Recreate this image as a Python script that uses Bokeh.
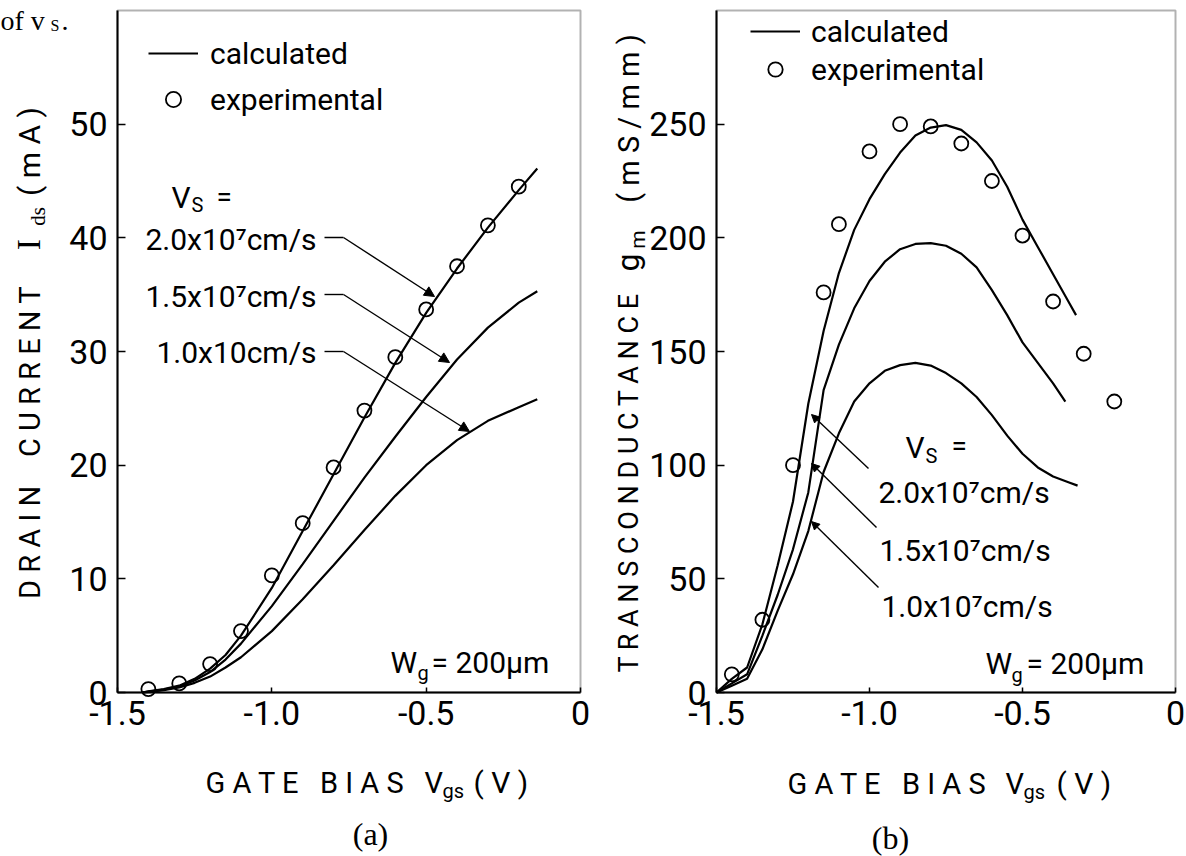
from math import pi
from bokeh.plotting import figure
from bokeh.layouts import row
from bokeh.models import (Range1d, FixedTicker, CustomJSTickFormatter, Label, Arrow,
                          NormalHead, Legend, LegendItem, BoxAnnotation)
from bokeh.embed import file_html
from bokeh.resources import INLINE

# ---------------- data: panel (a) drain current Ids (mA) ----------------
vgs_a_calc = [-1.42, -1.40, -1.35, -1.30, -1.25, -1.20, -1.15, -1.10, -1.00, -0.90,
              -0.80, -0.70, -0.60, -0.50, -0.40, -0.30, -0.20, -0.14]
ids_calc_v20 = [0.0, 0.1, 0.3, 0.6, 1.2, 2.1, 3.3, 5.0, 9.2, 14.2,
                19.2, 24.2, 29.0, 33.4, 37.3, 40.9, 44.2, 46.1]
ids_calc_v15 = [0.0, 0.08, 0.25, 0.55, 1.05, 1.8, 2.9, 4.3, 7.6, 11.3,
                15.1, 18.9, 22.5, 26.0, 29.3, 32.1, 34.3, 35.3]
ids_calc_v10 = [0.0, 0.05, 0.2, 0.45, 0.85, 1.4, 2.2, 3.1, 5.4, 8.2,
                11.2, 14.3, 17.3, 20.0, 22.2, 23.9, 25.1, 25.8]
vgs_a_exp = [-1.4, -1.3, -1.2, -1.1, -1.0, -0.9, -0.8, -0.7, -0.6, -0.5, -0.4, -0.3, -0.2]
ids_exp = [0.3, 0.8, 2.5, 5.4, 10.3, 14.9, 19.8, 24.8, 29.5, 33.7, 37.5, 41.1, 44.5]

# ---------------- data: panel (b) transconductance gm (mS/mm) ----------------
vgs_b_v20 = [-1.50, -1.45, -1.40, -1.35, -1.30, -1.25, -1.20, -1.15, -1.10, -1.05, -1.00,
             -0.95, -0.90, -0.85, -0.80, -0.75, -0.70, -0.65, -0.60, -0.55, -0.50,
             -0.45, -0.40, -0.35, -0.325]
gm_calc_v20 = [0, 6, 11, 30, 56, 84, 127, 159, 184.5, 203.5, 217,
               228, 237.5, 245, 248.5, 249.6, 247.5, 242, 234, 222.5, 208,
               196, 184, 172, 166]
vgs_b_v15 = [-1.50, -1.45, -1.40, -1.35, -1.30, -1.25, -1.20, -1.15, -1.10, -1.05, -1.00,
             -0.95, -0.90, -0.85, -0.80, -0.75, -0.70, -0.65, -0.60, -0.55, -0.50,
             -0.45, -0.40, -0.36]
gm_calc_v15 = [0, 4, 8, 25, 43, 63, 88, 133, 153, 169, 181,
               189.5, 195, 197.3, 197.7, 196.5, 193, 187, 177, 166, 154,
               145, 136, 128]
vgs_b_v10 = [-1.50, -1.45, -1.40, -1.35, -1.30, -1.25, -1.20, -1.15, -1.10, -1.05, -1.00,
             -0.95, -0.90, -0.85, -0.80, -0.75, -0.70, -0.65, -0.60, -0.55, -0.50,
             -0.45, -0.40, -0.35, -0.32]
gm_calc_v10 = [0, 3, 6, 19, 36, 52, 71, 97, 114, 128, 136,
               141.5, 144, 145, 143.8, 140.5, 136, 130, 122, 113, 105,
               99, 95, 92.5, 91]
vgs_b_exp = [-1.45, -1.35, -1.25, -1.15, -1.10, -1.0, -0.9, -0.8, -0.7, -0.6, -0.5, -0.4, -0.3, -0.2]
gm_exp = [8, 32, 100, 176, 206, 238, 250, 249, 241.5, 225, 201, 172, 149, 128]

x_ticks = [-1.5, -1.0, -0.5, 0.0]
ya_ticks = [0, 10, 20, 30, 40, 50]
yb_ticks = [0, 50, 100, 150, 200, 250]
X_MIN, X_MAX = -1.5, 0.0
YA_MAX, YB_MAX = 60, 300

SANS = "Roboto"
SERIF = "Liberation Serif"
NB = "\u00a0"

W, H = 593, 856
BOX_TOP, BOX_BOTTOM = 10, 692   # pixel rows of the plot box


def mapper(box_left, box_w, ymax):
    fx = lambda px: X_MIN + (px - box_left) * (X_MAX - X_MIN) / box_w
    fy = lambda py: (BOX_BOTTOM - py) * ymax / (BOX_BOTTOM - BOX_TOP)
    return fx, fy


def make_fig(fx, fy, fig_left, ymax, yticks):
    # the frame covers the whole figure; axes are pinned to the plot box
    p = figure(width=W, height=H,
               x_range=Range1d(fx(fig_left), fx(fig_left + W)),
               y_range=Range1d(fy(H), fy(0)),
               output_backend="svg", toolbar_location=None,
               min_border=0, min_border_left=0, min_border_right=0,
               min_border_top=0, min_border_bottom=0)
    p.xgrid.visible = False
    p.ygrid.visible = False
    p.outline_line_color = None
    p.background_fill_color = "white"
    p.border_fill_color = "white"
    p.xaxis.fixed_location = 0
    p.yaxis.fixed_location = X_MIN
    p.xaxis.bounds = (X_MIN, X_MAX)
    p.yaxis.bounds = (0, ymax)
    p.xaxis.ticker = FixedTicker(ticks=x_ticks)
    p.xaxis.formatter = CustomJSTickFormatter(code="return tick == 0 ? '0' : tick.toFixed(1);")
    p.yaxis.ticker = FixedTicker(ticks=yticks)
    for ax in (p.xaxis[0], p.yaxis[0]):
        ax.axis_line_color = "black"
        ax.axis_line_width = 2
        ax.major_tick_line_color = "black"
        ax.major_tick_line_width = 1.5
        ax.minor_tick_line_color = None
        ax.major_label_text_font = SANS
        ax.major_label_text_font_size = "34px"
        ax.major_label_text_color = "black"
    p.xaxis.major_tick_in = 5
    p.xaxis.major_tick_out = 0
    p.xaxis.major_label_standoff = 8
    p.yaxis.major_tick_in = 8
    p.yaxis.major_tick_out = 0
    p.yaxis.major_label_standoff = 10
    p.add_layout(BoxAnnotation(left=X_MIN, right=X_MAX, bottom=0, top=ymax,
                               fill_alpha=0, line_color="black", line_width=2))
    return p


def lab(p, fx, fy, px, py, text, size=30, font=SANS, align="left", baseline="middle", angle=0.0):
    p.add_layout(Label(x=fx(px), y=fy(py), text=text, text_font=font,
                       text_font_size=f"{size}px", text_align=align,
                       text_baseline=baseline, angle=angle, text_color="black"))


def arrow(p, fx, fy, x0, y0, x1, y1, head=True, size=10):
    end = NormalHead(size=size, fill_color="black", line_color="black", line_width=1) if head else None
    p.add_layout(Arrow(end=end, x_start=fx(x0), y_start=fy(y0), x_end=fx(x1), y_end=fy(y1),
                       line_color="black", line_width=1.4))


def spaced(word):
    return " ".join(word)


LINE_W = 2.2
GATE_BIAS = spaced("GATE") + " " + NB * 2 + spaced("BIAS")

# ================= panel (a) =================
fxa, fya = mapper(117, 463, YA_MAX)
pa = make_fig(fxa, fya, 0, YA_MAX, ya_ticks)
ra20 = pa.line(vgs_a_calc, ids_calc_v20, line_color="black", line_width=LINE_W)
pa.line(vgs_a_calc, ids_calc_v15, line_color="black", line_width=LINE_W)
pa.line(vgs_a_calc, ids_calc_v10, line_color="black", line_width=LINE_W)
rae = pa.scatter(vgs_a_exp, ids_exp, marker="circle", size=14, fill_color=None,
                 line_color="black", line_width=1.8)

pa.add_layout(Legend(items=[LegendItem(label="calculated", renderers=[ra20]),
                            LegendItem(label="experimental", renderers=[rae])],
                     location=(148, H - 118), orientation="vertical", margin=0, padding=0,
                     spacing=8, glyph_width=50, glyph_height=38, label_height=38,
                     label_standoff=12, label_text_font=SANS, label_text_font_size="30px",
                     label_text_color="black",
                     background_fill_alpha=0, border_line_color=None))

lab(pa, fxa, fya, 171, 197, "V", 30)
lab(pa, fxa, fya, 191, 204, "S", 20)
lab(pa, fxa, fya, 216, 196, "=", 28)
lab(pa, fxa, fya, 316, 239, "2.0x10\u2077cm/s", 30, align="right")
lab(pa, fxa, fya, 316, 296, "1.5x10\u2077cm/s", 30, align="right")
lab(pa, fxa, fya, 316, 352, "1.0x10cm/s", 30, align="right")
arrow(pa, fxa, fya, 324, 237, 343, 237, head=False)
arrow(pa, fxa, fya, 343, 237, 434, 296)
arrow(pa, fxa, fya, 324, 294, 343, 294, head=False)
arrow(pa, fxa, fya, 343, 294, 449, 362)
arrow(pa, fxa, fya, 324, 351, 343, 351, head=False)
arrow(pa, fxa, fya, 343, 351, 469, 431)

lab(pa, fxa, fya, 390, 662, "W", 30)
lab(pa, fxa, fya, 417, 672, "g", 20)
lab(pa, fxa, fya, 431, 662, "= 200\u03bcm", 30)

# y axis title (rotated)
lab(pa, fxa, fya, 29, 442, spaced("DRAIN") + " " + NB * 3 + spaced("CURRENT"), 29, align="center", angle=pi / 2)
lab(pa, fxa, fya, 28, 244, "I", 34, font=SERIF, align="center", angle=pi / 2)
lab(pa, fxa, fya, 37, 216, "ds", 21, font=SERIF, align="center", angle=pi / 2)
lab(pa, fxa, fya, 29, 151, "( m A )", 30, align="center", angle=pi / 2)

# x axis title
lab(pa, fxa, fya, 205, 782, GATE_BIAS, 29)
lab(pa, fxa, fya, 424, 782, "V", 29)
lab(pa, fxa, fya, 442, 790, "gs", 20)
lab(pa, fxa, fya, 473, 782, "( V )", 30)

lab(pa, fxa, fya, 370, 833, "(a)", 32, font=SERIF, align="center")
lab(pa, fxa, fya, 0, 20, "of v", 28, font=SERIF, baseline="alphabetic")
lab(pa, fxa, fya, 50, 25, "S", 16, font=SERIF, baseline="alphabetic")
lab(pa, fxa, fya, 61, 20, ".", 28, font=SERIF, baseline="alphabetic")

# ================= panel (b) =================
fxb, fyb = mapper(716, 459, YB_MAX)
pb = make_fig(fxb, fyb, W, YB_MAX, yb_ticks)
rb20 = pb.line(vgs_b_v20, gm_calc_v20, line_color="black", line_width=LINE_W)
pb.line(vgs_b_v15, gm_calc_v15, line_color="black", line_width=LINE_W)
pb.line(vgs_b_v10, gm_calc_v10, line_color="black", line_width=LINE_W)
rbe = pb.scatter(vgs_b_exp, gm_exp, marker="circle", size=14, fill_color=None,
                 line_color="black", line_width=1.8)

pb.add_layout(Legend(items=[LegendItem(label="calculated", renderers=[rb20]),
                            LegendItem(label="experimental", renderers=[rbe])],
                     location=(750 - W, H - 87), orientation="vertical", margin=0, padding=0,
                     spacing=2, glyph_width=50, glyph_height=36, label_height=36,
                     label_standoff=11, label_text_font=SANS, label_text_font_size="30px",
                     label_text_color="black",
                     background_fill_alpha=0, border_line_color=None))

lab(pb, fxb, fyb, 905, 447, "V", 30)
lab(pb, fxb, fyb, 925, 455, "S", 20)
lab(pb, fxb, fyb, 951, 445, "=", 28)
lab(pb, fxb, fyb, 878, 492, "2.0x10\u2077cm/s", 30)
lab(pb, fxb, fyb, 879, 550, "1.5x10\u2077cm/s", 30)
lab(pb, fxb, fyb, 881, 606, "1.0x10\u2077cm/s", 30)
arrow(pb, fxb, fyb, 868, 468, 811, 414, size=8)
arrow(pb, fxb, fyb, 876, 527, 811, 463, size=8)
arrow(pb, fxb, fyb, 878, 587, 811, 521, size=8)

lab(pb, fxb, fyb, 985, 663, "W", 30)
lab(pb, fxb, fyb, 1011, 674, "g", 20)
lab(pb, fxb, fyb, 1026, 663, "= 200\u03bcm", 30)

lab(pb, fxb, fyb, 628, 482, spaced("TRANSCONDUCTANCE"), 27, align="center", angle=pi / 2)
lab(pb, fxb, fyb, 627, 262, "g", 32, align="center", angle=pi / 2)
lab(pb, fxb, fyb, 637, 239, "m", 21, align="center", angle=pi / 2)
lab(pb, fxb, fyb, 628, 118, "( m S / m m )", 29, align="center", angle=pi / 2)

lab(pb, fxb, fyb, 787, 783, GATE_BIAS, 29)
lab(pb, fxb, fyb, 1005, 783, "V", 29)
lab(pb, fxb, fyb, 1023, 791, "gs", 20)
lab(pb, fxb, fyb, 1056, 783, "( V )", 30)
lab(pb, fxb, fyb, 890, 837, "(b)", 32, font=SERIF, align="center")

layout = row(pa, pb, spacing=0)
open("out.html", "w").write(file_html(layout, INLINE))
